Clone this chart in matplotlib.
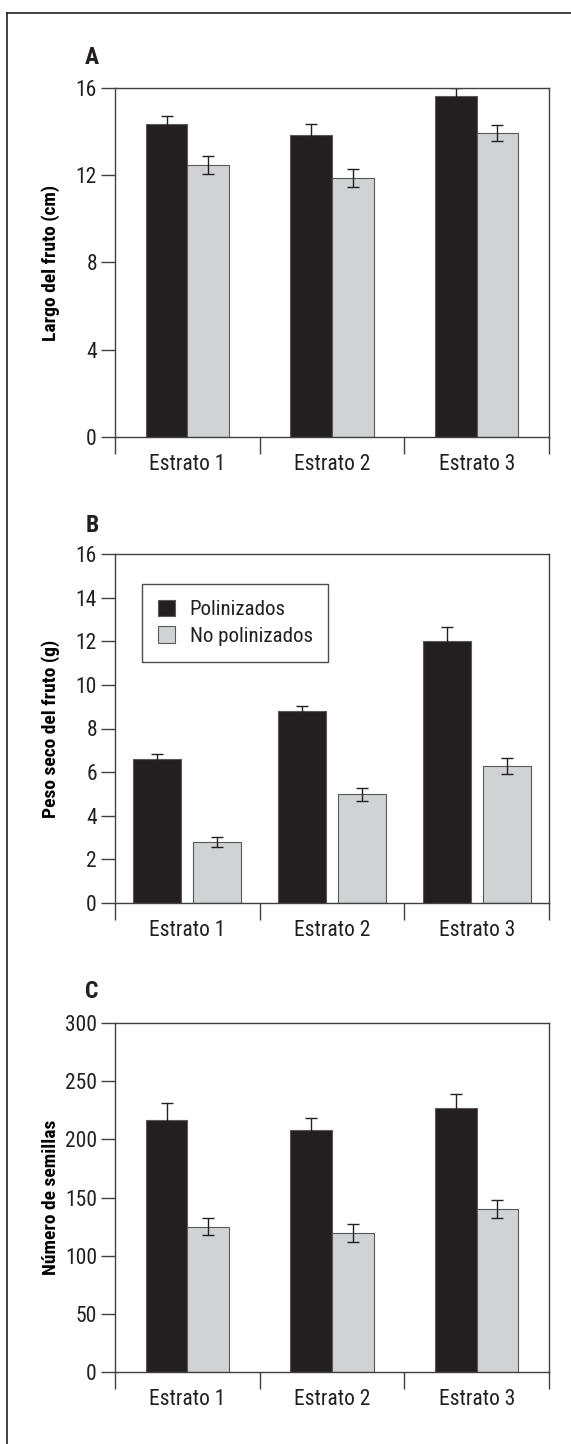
from __future__ import annotations

from dataclasses import dataclass

import matplotlib as mpl
import matplotlib.pyplot as plt
import numpy as np
from matplotlib.lines import Line2D

# ---- data ----
ESTRATOS = ["Estrato 1", "Estrato 2", "Estrato 3"]
SERIES = ["Polinizados", "No polinizados"]

LARGO_POL = [14.35, 13.85, 15.62]
LARGO_POL_ERR = [0.38, 0.50, 0.38]
LARGO_NOPOL = [12.47, 11.88, 13.95]
LARGO_NOPOL_ERR = [0.42, 0.40, 0.36]

PESO_POL = [6.60, 8.81, 12.0]
PESO_POL_ERR = [0.25, 0.23, 0.64]
PESO_NOPOL = [2.80, 4.99, 6.28]
PESO_NOPOL_ERR = [0.22, 0.30, 0.35]

SEMILLAS_POL = [217, 208, 227]
SEMILLAS_POL_ERR = [14, 10.6, 12]
SEMILLAS_NOPOL = [125, 119.5, 140]
SEMILLAS_NOPOL_ERR = [7.5, 8, 8]


@dataclass
class PlotStyle:
    figsize: tuple = (5.71, 14.44)
    dpi: int = 100
    dark: str = "#231f20"
    light: str = "#d1d2d4"
    edge: str = "#58595b"
    spine: str = "#404041"
    text: str = "#231f20"
    font_size: float = 15.5
    label_size: float = 14.0
    letter_size: float = 17.0


def setup_style(style: PlotStyle) -> None:
    mpl.rcParams.update(
        {
            "font.family": ["Liberation Sans Narrow", "Roboto Condensed",
                            "Roboto", "DejaVu Sans"],
            "font.size": style.font_size,
            "text.color": style.text,
            "axes.edgecolor": style.spine,
            "axes.linewidth": 1.0,
            "xtick.color": style.spine,
            "ytick.color": style.spine,
            "xtick.labelcolor": style.text,
            "ytick.labelcolor": style.text,
        }
    )


def draw_panel(ax, pol, pol_err, nopol, nopol_err, width, offset, ylim, yticks,
               ylabel, style):
    centers = np.arange(len(ESTRATOS)) + 0.5
    err_kw = dict(ecolor=style.dark, elinewidth=1.0, capsize=4.5, capthick=1.0)

    ax.bar(centers - offset, pol, width, yerr=pol_err, color=style.dark,
           edgecolor=style.edge, linewidth=0.8, error_kw=err_kw,
           label=SERIES[0], zorder=2)
    ax.bar(centers + offset, nopol, width, yerr=nopol_err, color=style.light,
           edgecolor=style.edge, linewidth=0.8, error_kw=err_kw,
           label=SERIES[1], zorder=2)

    ax.set_xlim(0, len(ESTRATOS))
    ax.set_ylim(*ylim)
    ax.set_yticks(yticks)
    ax.tick_params(axis="y", direction="out", length=10, width=1.0, pad=3)

    # category boundaries carry ticks, labels sit between them
    ax.set_xticks(np.arange(len(ESTRATOS) + 1))
    ax.set_xticklabels([])
    ax.tick_params(axis="x", which="major", direction="out", length=12, width=1.0)
    ax.set_xticks(centers, minor=True)
    ax.set_xticklabels(ESTRATOS, minor=True)
    ax.tick_params(axis="x", which="minor", length=0, pad=12)

    ax.set_ylabel(ylabel, fontweight="bold", fontsize=style.label_size)
    ax.yaxis.set_label_coords(-0.126, 0.5)


def create_figure(output_path: str, style: PlotStyle) -> None:
    setup_style(style)
    fig = plt.figure(figsize=style.figsize, dpi=style.dpi)
    W, H = 571.0, 1444.0

    left = 115 / W
    width = 434 / W
    height = 349 / H

    ax_a = fig.add_axes([left, 1 - 437 / H, width, height])
    ax_b = fig.add_axes([left, 1 - 903 / H, width, height])
    ax_c = fig.add_axes([left, 1 - 1372 / H, width, height])

    draw_panel(ax_a, LARGO_POL, LARGO_POL_ERR, LARGO_NOPOL, LARGO_NOPOL_ERR,
               0.288, 0.144, (0, 16), [0, 4, 8, 12, 16],
               "Largo del fruto (cm)", style)
    draw_panel(ax_b, PESO_POL, PESO_POL_ERR, PESO_NOPOL, PESO_NOPOL_ERR,
               0.332, 0.2075, (0, 16), list(range(0, 17, 2)),
               "Peso seco del fruto (g)", style)
    draw_panel(ax_c, SEMILLAS_POL, SEMILLAS_POL_ERR, SEMILLAS_NOPOL,
               SEMILLAS_NOPOL_ERR, 0.288, 0.144, (0, 300),
               list(range(0, 301, 50)), "Número de semillas", style)

    leg = ax_b.legend(loc="upper left", bbox_to_anchor=(0.062, 0.914),
                      frameon=True, fancybox=False, edgecolor=style.dark,
                      fontsize=15, handlelength=0.85, handleheight=0.85,
                      handletextpad=0.7, borderpad=0.75, labelspacing=0.35,
                      borderaxespad=0)
    leg.get_frame().set_linewidth(1.0)

    for letter, y in zip("ABC", [58, 525, 992]):
        fig.text(92 / W, 1 - y / H, letter, fontweight="bold",
                 ha="center", va="center", fontsize=style.letter_size)

    # outer frame: top and left rules
    fig.add_artist(Line2D([7 / W, 1.0], [1 - 13 / H, 1 - 13 / H],
                          color=style.dark, linewidth=1.2,
                          transform=fig.transFigure))
    fig.add_artist(Line2D([7 / W, 7 / W], [0.0, 1 - 13 / H],
                          color=style.dark, linewidth=1.2,
                          transform=fig.transFigure))

    fig.savefig(output_path, dpi=style.dpi)
    plt.close(fig)


if __name__ == "__main__":
    create_figure("out.png", PlotStyle())
